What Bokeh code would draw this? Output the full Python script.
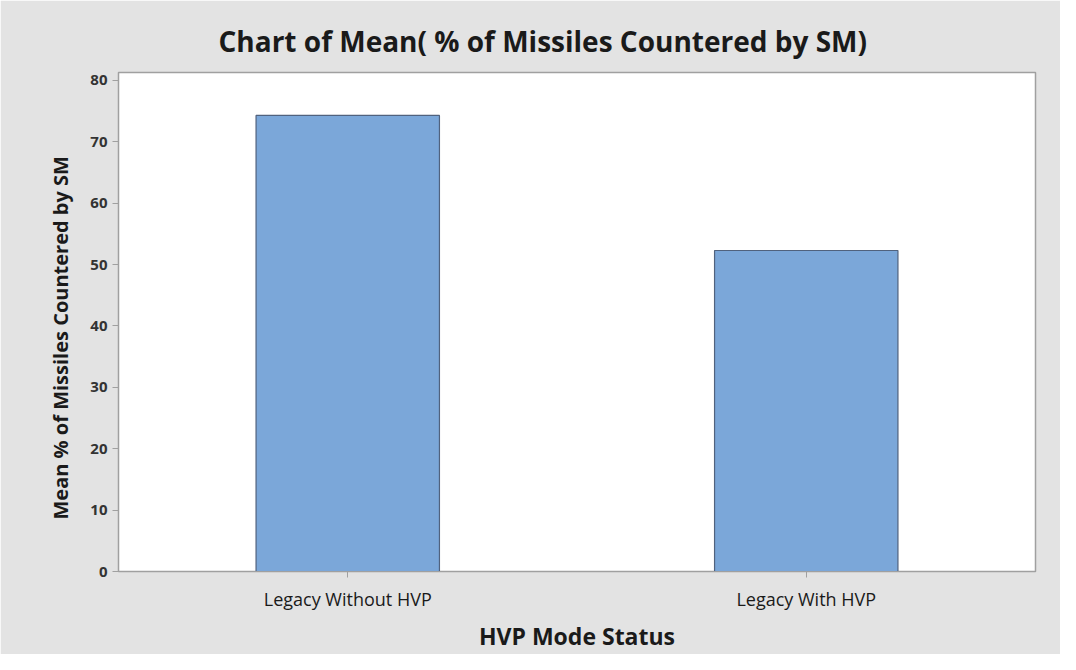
from bokeh.plotting import figure
from bokeh.models import FactorRange, Range1d, FixedTicker, ColumnDataSource, Title
from bokeh.embed import file_html
from bokeh.resources import INLINE

categories = ["Legacy Without HVP", "Legacy With HVP"]
means = [74.3, 52.3]
y_ticks = [0, 10, 20, 30, 40, 50, 60, 70, 80]

src = ColumnDataSource(dict(cat=categories, val=means))

BG = "#e3e3e3"
p = figure(width=1060, height=654, output_backend="svg", toolbar_location=None,
           x_range=FactorRange(*categories, range_padding=0),
           y_range=Range1d(0, 81.3),
           background_fill_color="white", border_fill_color=BG,
           min_border_left=118, min_border_right=25, min_border_top=72, min_border_bottom=74)

p.vbar(x="cat", top="val", width=0.4, source=src,
       fill_color="#7ba7d9", line_color="#50627e", line_width=1.2)

p.title = None
t = Title(text="Chart of Mean( % of Missiles Countered by SM)", align="left", offset=100,
          text_font="Open Sans", text_font_size="28px", text_font_style="bold",
          text_color="#1a1a1a", standoff=26)
p.add_layout(t, "above")

ylab = Title(text="Mean % of Missiles Countered by SM", align="left", offset=52,
             text_font="Open Sans", text_font_size="20px", text_font_style="bold",
             text_color="#1a1a1a", standoff=28)
p.add_layout(ylab, "left")

p.grid.visible = False
p.outline_line_color = "#a0a0a0"
p.outline_line_width = 1.5

p.yaxis.ticker = FixedTicker(ticks=y_ticks)
p.yaxis.minor_tick_line_color = None
p.yaxis.major_tick_out = 6
p.yaxis.major_tick_in = 0
p.yaxis.axis_line_color = "#a0a0a0"
p.yaxis.major_tick_line_color = "#a0a0a0"
p.yaxis.major_label_text_font = "Open Sans"
p.yaxis.major_label_text_font_size = "15px"
p.yaxis.major_label_text_font_style = "bold"
p.yaxis.major_label_text_color = "#333333"

p.xaxis.major_tick_out = 6
p.xaxis.major_tick_in = 0
p.xaxis.axis_line_color = "#a0a0a0"
p.xaxis.major_tick_line_color = "#a0a0a0"
p.xaxis.major_label_text_font = "Open Sans"
p.xaxis.major_label_text_font_size = "18px"
p.xaxis.major_label_text_color = "#1a1a1a"
p.xaxis.major_label_standoff = 9
p.xaxis.axis_label = "HVP Mode Status"
p.xaxis.axis_label_text_font = "Open Sans"
p.xaxis.axis_label_text_font_size = "23px"
p.xaxis.axis_label_text_font_style = "bold"
p.xaxis.axis_label_text_color = "#1a1a1a"
p.xaxis.axis_label_standoff = 6

open("out.html", "w").write(file_html(p, INLINE))
